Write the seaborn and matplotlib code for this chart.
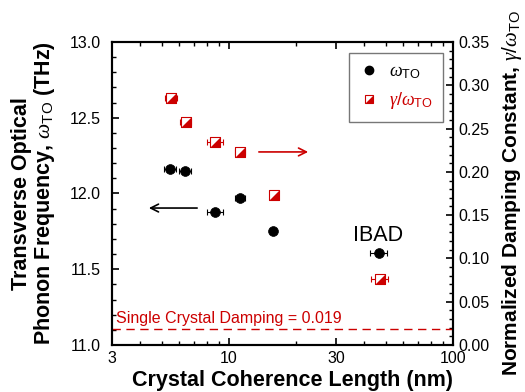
import numpy as np
import pandas as pd
import matplotlib
matplotlib.use("Agg")
import matplotlib.pyplot as plt
import seaborn as sns
from matplotlib.ticker import FixedLocator, MultipleLocator, NullFormatter
from matplotlib.lines import Line2D
from matplotlib.path import Path

sns.set_theme(style="ticks")
plt.rcParams['font.family'] = ['Liberation Sans', 'DejaVu Sans']
plt.rcParams['mathtext.fontset'] = 'custom'
plt.rcParams['mathtext.rm'] = 'Liberation Sans'
plt.rcParams['mathtext.it'] = 'Liberation Serif:italic'
plt.rcParams['mathtext.bf'] = 'Liberation Sans:bold'
for k in ['text.color', 'axes.labelcolor', 'xtick.color', 'ytick.color', 'axes.edgecolor']:
    plt.rcParams[k] = 'black'

# data
length_w = [5.45, 6.35, 8.65, 11.2, 15.7, 46.7]
length_w_err = [0.35, 0.4, 0.7, 0.6, 0.0, 4.0]
omega_to = [12.16, 12.15, 11.88, 11.97, 11.75, 11.61]

length_g = [5.5, 6.4, 8.65, 11.2, 15.8, 47.0]
length_g_err = [0.35, 0.35, 0.7, 0.6, 0.3, 4.0]
gamma_ratio = [0.285, 0.258, 0.234, 0.223, 0.173, 0.076]

single_crystal = 0.019

df_w = pd.DataFrame({"L": length_w, "w": omega_to})
df_g = pd.DataFrame({"L": length_g, "g": gamma_ratio})

red = "#cc0000"

fig = plt.figure(figsize=(5.25, 3.92), dpi=100)
ax = fig.add_axes([0.2133, 0.1199, 0.6496, 0.7730])
ax2 = ax.twinx()

# left series
ax.errorbar(length_w, omega_to, xerr=length_w_err, fmt='none', ecolor='black',
            elinewidth=0.8, capsize=2, capthick=0.8, zorder=2)
sns.scatterplot(data=df_w, x="L", y="w", ax=ax, color='black', marker='o', s=50,
                edgecolor='black', linewidth=0.5, zorder=3, legend=False)

# right series
ax2.errorbar(length_g, gamma_ratio, xerr=length_g_err, fmt='none', ecolor=red,
             elinewidth=0.8, capsize=2, capthick=0.8, zorder=2)
sns.scatterplot(data=df_g, x="L", y="g", ax=ax2, marker='s', s=56, color='white',
                edgecolor=red, linewidth=0.8, zorder=3, legend=False)
tri = [(1, -1), (1, 1), (-1, -1), (1, -1)]
sns.scatterplot(data=df_g, x="L", y="g", ax=ax2, marker=tri, s=56, color=red,
                edgecolor=red, linewidth=0.0, zorder=4, legend=False)

ax2.axhline(single_crystal, color=red, linestyle=(0, (6, 4)), linewidth=1.0)
ax2.text(3.12, 0.0215, "Single Crystal Damping = 0.019", color=red, fontsize=11.5,
         ha='left', va='bottom')

ax.set_xscale('log')
ax.set_xlim(3, 100)
ax.set_ylim(11.0, 13.0)
ax2.set_ylim(0.0, 0.35)

ax.xaxis.set_major_locator(FixedLocator([3, 10, 30, 100]))
ax.set_xticklabels(["3", "10", "30", "100"])
ax.xaxis.set_minor_locator(FixedLocator([4, 5, 6, 7, 8, 9, 20, 40, 50, 60, 70, 80, 90]))
ax.xaxis.set_minor_formatter(NullFormatter())
ax.set_yticks(np.arange(11.0, 13.01, 0.5))
ax.set_yticklabels([f"{v:.1f}" for v in np.arange(11.0, 13.01, 0.5)])
ax.yaxis.set_minor_locator(MultipleLocator(0.1))
ax2.set_yticks(np.arange(0, 0.351, 0.05))
ax2.set_yticklabels([f"{v:.2f}" for v in np.arange(0, 0.351, 0.05)])
ax2.yaxis.set_minor_locator(MultipleLocator(0.01))

for a in (ax, ax2):
    for s in a.spines.values():
        s.set_linewidth(1.5)
        s.set_color('black')
ax.tick_params(which='both', direction='in', top=True, labelsize=11.5, colors='black')
ax.tick_params(which='major', length=5, width=1.2)
ax.tick_params(which='minor', length=3, width=1.0)
ax.tick_params(axis='y', pad=8)
ax2.tick_params(which='both', direction='in', labelsize=11.5, colors='black')
ax2.tick_params(which='major', length=5, width=1.2)
ax2.tick_params(which='minor', length=3, width=1.0)
ax.tick_params(axis='x', pad=4)

ax.set_xlabel("Crystal Coherence Length (nm)", fontsize=15.5, fontweight='bold')
ax.xaxis.set_label_coords(0.528, -0.083)
ax.set_ylabel("Transverse Optical\nPhonon Frequency, $\\omega_{\\mathrm{TO}}$ (THz)",
              fontsize=15.5, fontweight='bold', labelpad=9, linespacing=1.0)
ax2.set_ylabel("Normalized Damping Constant, $\\gamma/\\omega_{\\mathrm{TO}}$",
               fontsize=15, fontweight='bold', labelpad=8)

# arrows
ax.annotate("", xy=(4.26, 11.904), xytext=(7.41, 11.904),
            arrowprops=dict(arrowstyle='->', color='black', lw=1.2, mutation_scale=14))
ax2.annotate("", xy=(23.2, 0.223), xytext=(13.2, 0.223),
             arrowprops=dict(arrowstyle='->', color=red, lw=1.2, mutation_scale=14))

ax.text(46.5, 11.655, "IBAD", fontsize=15.5, ha='center', va='bottom')

# legend
h1 = Line2D([], [], marker='o', color='black', linestyle='none', markersize=6)
h2a = Line2D([], [], marker='s', markerfacecolor='white', markeredgecolor=red,
             linestyle='none', markersize=6, markeredgewidth=0.8)
h2b = Line2D([], [], marker=Path(tri), color=red, linestyle='none', markersize=6,
             markeredgewidth=0)
leg = ax2.legend([h1, (h2a, h2b)], ["$\\omega_{\\mathrm{TO}}$", "$\\gamma/\\omega_{\\mathrm{TO}}$"],
                 loc='upper right', bbox_to_anchor=(0.971, 0.964), borderaxespad=0,
                 fontsize=13, frameon=True, fancybox=False, edgecolor='#555555',
                 handlelength=1.0, handletextpad=0.6, borderpad=0.6, labelspacing=0.5)
leg.get_frame().set_linewidth(1.0)
leg.get_texts()[1].set_color(red)

fig.savefig("out.png", dpi=100)
